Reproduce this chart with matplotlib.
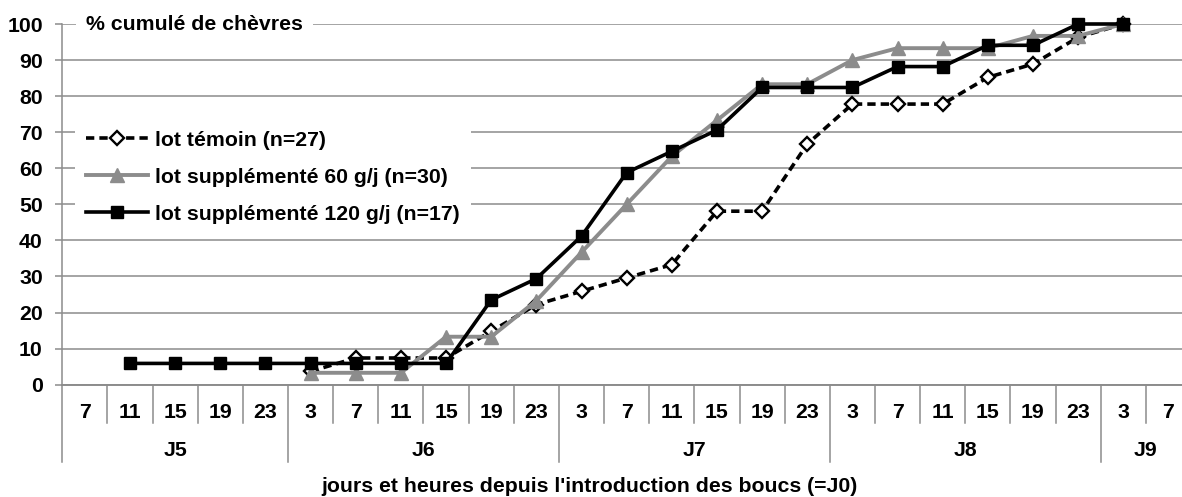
import numpy as np
import matplotlib
matplotlib.use("Agg")
import matplotlib.pyplot as plt

plt.rcParams['font.family'] = ['Liberation Sans', 'DejaVu Sans']
plt.rcParams['font.weight'] = 'bold'

# categories (hour of day, grouped by day after ram introduction)
hours = [7, 11, 15, 19, 23,
         3, 7, 11, 15, 19, 23,
         3, 7, 11, 15, 19, 23,
         3, 7, 11, 15, 19, 23,
         3, 7]
days = ['J5', 'J6', 'J7', 'J8', 'J9']
day_len = [5, 6, 6, 6, 2]

nan = np.nan
temoin = [nan, nan, nan, nan, nan,
          3.7, 7.4, 7.4, 7.4, 14.8, 22.2,
          25.9, 29.6, 33.3, 48.1, 48.1, 66.7,
          77.8, 77.8, 77.8, 85.2, 88.9, 96.3,
          100, nan]
lot60 = [nan, nan, nan, nan, nan,
         3.3, 3.3, 3.3, 13.3, 13.3, 23.3,
         36.7, 50.0, 63.3, 73.3, 83.3, 83.3,
         90.0, 93.3, 93.3, 93.3, 96.7, 96.7,
         100, nan]
lot120 = [nan, 5.9, 5.9, 5.9, 5.9,
          5.9, 5.9, 5.9, 5.9, 23.5, 29.4,
          41.2, 58.8, 64.7, 70.6, 82.4, 82.4,
          82.4, 88.2, 88.2, 94.1, 94.1, 100,
          100, nan]

W, H = 1182, 497
fs = 15.3
fig = plt.figure(figsize=(W / 100, H / 100), dpi=100)
x0, x1, y0, y1 = 62.3, 1191, 384.7, 24
ax = fig.add_axes([x0 / W, (H - y0) / H, (x1 - x0) / W, (y0 - y1) / H])
hp = y0 - y1  # axes height in px

grey = '#8c8c8c'
x = np.arange(len(hours))

ax.plot(x, temoin, color='black', lw=2.6, dashes=(2.3, 1.4),
        marker='D', ms=7.4, mfc='white', mec='black', mew=1.7,
        clip_on=False, zorder=3, label='lot témoin (n=27)')
ax.plot(x, lot60, color=grey, lw=2.8, marker='^', ms=10,
        mfc=grey, mec=grey, clip_on=False, zorder=4,
        label='lot supplémenté 60 g/j (n=30)')
ax.plot(x, lot120, color='black', lw=2.6, marker='s', ms=9,
        mfc='black', mec='black', clip_on=False, zorder=5,
        label='lot supplémenté 120 g/j (n=17)')

ax.set_xlim(-0.5, len(hours) - 0.5)
ax.set_ylim(0, 100)
ax.set_yticks(range(0, 101, 10))
ax.tick_params(axis='y', length=5, width=1.1, color=grey, pad=9,
               labelsize=fs)
ax.set_xticks([])
ax.yaxis.grid(True, color=grey, lw=1.1)
ax.set_axisbelow(True)
for s in ['top', 'right']:
    ax.spines[s].set_visible(False)
ax.spines['left'].set_color(grey)
ax.spines['left'].set_linewidth(1.1)
ax.spines['bottom'].set_color(grey)
ax.spines['bottom'].set_linewidth(1.4)

# two-level category axis
tr = ax.get_xaxis_transform()
short = -38 / hp
long_ = -77 / hp
bounds = np.cumsum(day_len)[:-1] - 0.5
for k in range(1, len(hours)):
    xs = k - 0.5
    low = long_ if xs in bounds else short
    ax.plot([xs, xs], [0, low], transform=tr, color=grey, lw=1.1,
            clip_on=False)
ax.plot([-0.5, -0.5], [0, long_], transform=tr, color=grey, lw=1.1,
        clip_on=False)
for k, h in enumerate(hours):
    ax.text(k, -27.5 / hp, str(h), transform=tr, ha='center', va='center',
            fontsize=fs)
start = 0
for d, n in zip(days, day_len):
    ax.text(start + (n - 1) / 2, -66 / hp, d, transform=tr, ha='center',
            va='center', fontsize=fs)
    start += n

ax.text(86 / W, 1 - 24 / H, '% cumulé de chèvres', transform=fig.transFigure,
        ha='left', va='center', fontsize=fs,
        bbox=dict(facecolor='white', edgecolor='none', pad=7))
fig.text(321.7 / W, 1 - 486 / H,
         "jours et heures depuis l'introduction des boucs (=J0)",
         ha='left', va='center', fontsize=fs)

leg = ax.legend(loc='upper left', bbox_to_anchor=(75 / W, 1 - 120 / H),
                bbox_transform=fig.transFigure, frameon=True, fancybox=False,
                framealpha=1, edgecolor='none', facecolor='white',
                fontsize=fs, handlelength=2.95, handletextpad=0.33,
                labelspacing=0.85, borderpad=0.5, borderaxespad=0)

fig.savefig('out.png', dpi=100)
